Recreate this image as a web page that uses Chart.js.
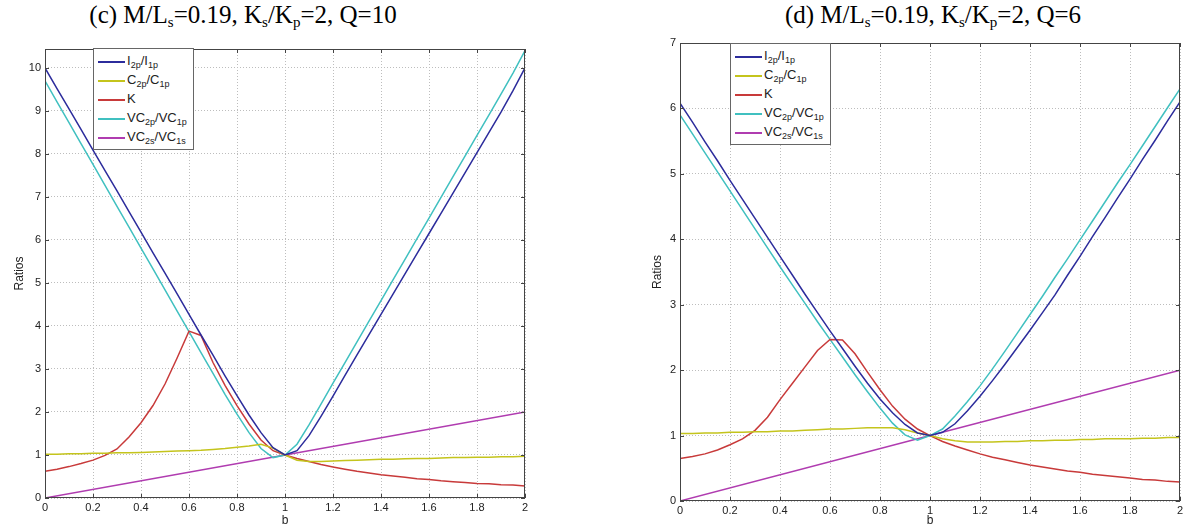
<!DOCTYPE html>
<html lang="en">
<head>
  <meta charset="UTF-8">
  <title>Ratios vs b</title>
  <script src="https://cdn.jsdelivr.net/npm/chart.js"></script>
  <style>
    body {
      margin: 0;
      width: 1191px;
      height: 531px;
      position: relative;
      overflow: hidden;
      background: #fff;
      font-family: "Liberation Sans", Arial, sans-serif;
    }
    canvas { position: absolute; top: 0; }
    .title {
      position: absolute;
      top: 1px;
      transform: translateX(-50%);
      white-space: nowrap;
      font-family: "Liberation Serif", "Times New Roman", serif;
      font-size: 25px;
      color: #000;
    }
    .title sub { font-size: 15px; vertical-align: -4px; line-height: 0; }
    .legend {
      position: absolute;
      background: #fff;
      border: 1px solid #666;
      padding: 2px 6px 3px 4px;
      font-size: 13px;
      color: #222;
    }
    .legend div { height: 19px; line-height: 19px; white-space: nowrap; }
    .legend .ln {
      display: inline-block;
      width: 27px;
      border-top: 2px solid;
      vertical-align: middle;
      margin-right: 2px;
    }
    .legend sub { font-size: 9px; vertical-align: -3px; line-height: 0; }
  </style>
</head>
<body>
  <div class="title" style="left:243px">(c) M/L<sub>s</sub>=0.19, K<sub>s</sub>/K<sub>p</sub>=2, Q=10</div>
  <div class="title" style="left:933px">(d) M/L<sub>s</sub>=0.19, K<sub>s</sub>/K<sub>p</sub>=2, Q=6</div>

  <canvas id="chartC" width="560" height="531" style="left:0"></canvas>
  <canvas id="chartD" width="591" height="531" style="left:600px"></canvas>

  <div class="legend" id="legC" style="left:93px; top:48px"></div>
  <div class="legend" id="legD" style="left:730px; top:43px"></div>

  <script>
    // b values shared by the curves
    const B = [0, 0.05, 0.1, 0.15, 0.2, 0.25, 0.3, 0.35, 0.4, 0.45, 0.5, 0.55, 0.6, 0.65, 0.7, 0.75, 0.8, 0.85, 0.9, 0.95, 1,
               1.05, 1.1, 1.15, 1.2, 1.25, 1.3, 1.35, 1.4, 1.45, 1.5, 1.55, 1.6, 1.65, 1.7, 1.75, 1.8, 1.85, 1.9, 1.95, 2];

    // (c) Q=10
    const iRatioC = [10.0, 9.52, 9.05, 8.57, 8.09, 7.61, 7.14, 6.66, 6.18, 5.7, 5.23, 4.75, 4.27, 3.79, 3.32, 2.84, 2.38, 1.93, 1.52, 1.17, 1.0,
                     1.1, 1.45, 1.9, 2.37, 2.85, 3.33, 3.8, 4.27, 4.74, 5.21, 5.68, 6.15, 6.62, 7.09, 7.56, 8.03, 8.5, 8.97, 9.47, 10.0];
    const cRatioC = [1.02, 1.02, 1.03, 1.03, 1.04, 1.04, 1.05, 1.05, 1.06, 1.07, 1.08, 1.09, 1.1, 1.11, 1.13, 1.15, 1.18, 1.21, 1.25, 1.16, 1.0,
                     0.88, 0.85, 0.85, 0.86, 0.87, 0.88, 0.89, 0.9, 0.9, 0.91, 0.92, 0.92, 0.93, 0.94, 0.94, 0.95, 0.95, 0.96, 0.96, 0.97];
    const kC = [0.62, 0.67, 0.73, 0.8, 0.88, 0.99, 1.14, 1.42, 1.75, 2.15, 2.65, 3.25, 3.88, 3.78, 3.15, 2.62, 2.15, 1.72, 1.35, 1.1, 1.0,
                0.92, 0.85, 0.78, 0.72, 0.67, 0.62, 0.58, 0.54, 0.51, 0.48, 0.45, 0.43, 0.4, 0.38, 0.36, 0.34, 0.33, 0.31, 0.3, 0.28];
    const vcpC = [9.7, 9.21, 8.73, 8.24, 7.76, 7.27, 6.78, 6.3, 5.81, 5.33, 4.84, 4.35, 3.87, 3.38, 2.9, 2.41, 1.95, 1.52, 1.15, 0.94, 1.0,
                  1.25, 1.7, 2.18, 2.67, 3.15, 3.63, 4.11, 4.59, 5.07, 5.55, 6.03, 6.51, 6.99, 7.47, 7.95, 8.43, 8.91, 9.39, 9.88, 10.4];

    // (d) Q=6
    const iRatioD = [6.08, 5.79, 5.49, 5.2, 4.9, 4.61, 4.32, 4.03, 3.74, 3.45, 3.16, 2.88, 2.6, 2.33, 2.06, 1.8, 1.56, 1.35, 1.17, 1.04, 1.0,
                     1.05, 1.18, 1.38, 1.6, 1.84, 2.09, 2.35, 2.61, 2.88, 3.15, 3.45, 3.74, 4.04, 4.33, 4.63, 4.92, 5.22, 5.51, 5.81, 6.1];
    const cRatioD = [1.03, 1.03, 1.04, 1.04, 1.05, 1.05, 1.06, 1.06, 1.07, 1.07, 1.08, 1.09, 1.1, 1.1, 1.11, 1.12, 1.12, 1.12, 1.09, 1.04, 1.0,
                     0.95, 0.92, 0.9, 0.9, 0.9, 0.91, 0.91, 0.92, 0.92, 0.93, 0.93, 0.94, 0.94, 0.95, 0.95, 0.95, 0.96, 0.96, 0.97, 0.97];
    const kD = [0.65, 0.68, 0.72, 0.78, 0.86, 0.95, 1.08, 1.28, 1.55, 1.8, 2.05, 2.3, 2.47, 2.46, 2.25, 1.97, 1.7, 1.45, 1.25, 1.1, 1.0,
                0.91, 0.84, 0.78, 0.72, 0.67, 0.63, 0.59, 0.55, 0.52, 0.49, 0.46, 0.44, 0.41, 0.39, 0.37, 0.35, 0.33, 0.32, 0.3, 0.29];
    const vcpD = [5.9, 5.61, 5.32, 5.03, 4.74, 4.45, 4.16, 3.87, 3.58, 3.3, 3.02, 2.74, 2.47, 2.2, 1.93, 1.67, 1.42, 1.19, 1.01, 0.93, 1.0,
                  1.1, 1.3, 1.52, 1.76, 2.02, 2.29, 2.57, 2.85, 3.13, 3.42, 3.7, 3.99, 4.28, 4.57, 4.86, 5.14, 5.43, 5.72, 6.01, 6.3];

    // VC2s/VC1s is a straight line in both panels
    const bStraight = [0, 1, 2];
    const vcsStraight = [0, 1, 2];

    const xTicks = [0, 0.2, 0.4, 0.6, 0.8, 1, 1.2, 1.4, 1.6, 1.8, 2];

    const names = ["I<sub>2p</sub>/I<sub>1p</sub>", "C<sub>2p</sub>/C<sub>1p</sub>", "K",
                   "VC<sub>2p</sub>/VC<sub>1p</sub>", "VC<sub>2s</sub>/VC<sub>1s</sub>"];
    const colors = ["#2c2c9c", "#c4c41c", "#c83a3a", "#40c0c0", "#b03cb0"];

    function pts(xs, ys) {
      return xs.map((x, i) => ({ x: x, y: ys[i] }));
    }

    // box + inward ticks like matlab
    const framePlugin = {
      id: "frame",
      afterDatasetsDraw(chart) {
        const { ctx, chartArea: a, scales } = chart;
        ctx.save();
        ctx.strokeStyle = "#444";
        ctx.lineWidth = 1;
        ctx.strokeRect(a.left + 0.5, a.top + 0.5, a.right - a.left - 1, a.bottom - a.top - 1);
        ctx.beginPath();
        scales.x.ticks.forEach(t => {
          const px = Math.round(scales.x.getPixelForValue(t.value)) + 0.5;
          ctx.moveTo(px, a.bottom); ctx.lineTo(px, a.bottom - 4);
          ctx.moveTo(px, a.top); ctx.lineTo(px, a.top + 4);
        });
        scales.y.ticks.forEach(t => {
          if (!Number.isInteger(t.value)) return;
          const py = Math.round(scales.y.getPixelForValue(t.value)) + 0.5;
          ctx.moveTo(a.left, py); ctx.lineTo(a.left + 4, py);
          ctx.moveTo(a.right, py); ctx.lineTo(a.right - 4, py);
        });
        ctx.stroke();
        ctx.restore();
      }
    };

    function makeChart(id, series, yMax, pad, yWidth, xHeight) {
      const ds = series.map((ys, i) => ({
        label: names[i],
        data: i === 4 ? pts(bStraight, vcsStraight) : pts(B, ys),
        borderColor: colors[i],
        borderWidth: 1.5,
        pointRadius: 0,
        tension: 0,
        fill: false
      }));
      return new Chart(document.getElementById(id), {
        type: "line",
        data: { datasets: ds },
        options: {
          responsive: false,
          animation: false,
          devicePixelRatio: 1,
          layout: { padding: pad },
          plugins: { legend: { display: false }, tooltip: { enabled: false } },
          scales: {
            x: {
              type: "linear",
              min: 0, max: 2,
              afterBuildTicks: s => { s.ticks = xTicks.map(v => ({ value: v })); },
              afterFit: s => { s.height = xHeight; },
              grid: { color: "#bdbdbd", lineWidth: 1, drawTicks: false },
              border: { display: false, dash: [1, 2] },
              ticks: {
                padding: 3,
                color: "#222",
                font: { family: "Liberation Sans", size: 11 },
                maxRotation: 0,
                callback: v => String(+v.toFixed(1))
              },
              title: { display: true, text: "b", color: "#222", padding: { top: 0, bottom: 3 },
                       font: { family: "Liberation Sans", size: 12 } }
            },
            y: {
              min: 0, max: yMax,
              afterFit: s => { s.width = yWidth; },
              grid: { color: "#bdbdbd", lineWidth: 1, drawTicks: false },
              border: { display: false, dash: [1, 2] },
              ticks: {
                stepSize: 1,
                padding: 4,
                color: "#222",
                font: { family: "Liberation Sans", size: 11 },
                callback: v => Number.isInteger(v) ? String(v) : ""
              },
              title: { display: true, text: "Ratios", color: "#222", padding: { top: 12, bottom: 0 },
                       font: { family: "Liberation Sans", size: 12 } }
            }
          }
        },
        plugins: [framePlugin]
      });
    }

    function makeLegend(id) {
      const box = document.getElementById(id);
      names.forEach((n, i) => {
        const row = document.createElement("div");
        row.innerHTML = '<span class="ln" style="border-color:' + colors[i] + '"></span>' + n;
        box.appendChild(row);
      });
    }

    makeChart("chartC", [iRatioC, cRatioC, kC, vcpC, null], 10.44,
              { left: 0, right: 35, top: 49, bottom: 0 }, 45, 33);
    makeChart("chartD", [iRatioD, cRatioD, kD, vcpD, null], 7,
              { left: 38, right: 11, top: 43, bottom: 0 }, 42, 30);
    makeLegend("legC");
    makeLegend("legD");
  </script>
</body>
</html>
